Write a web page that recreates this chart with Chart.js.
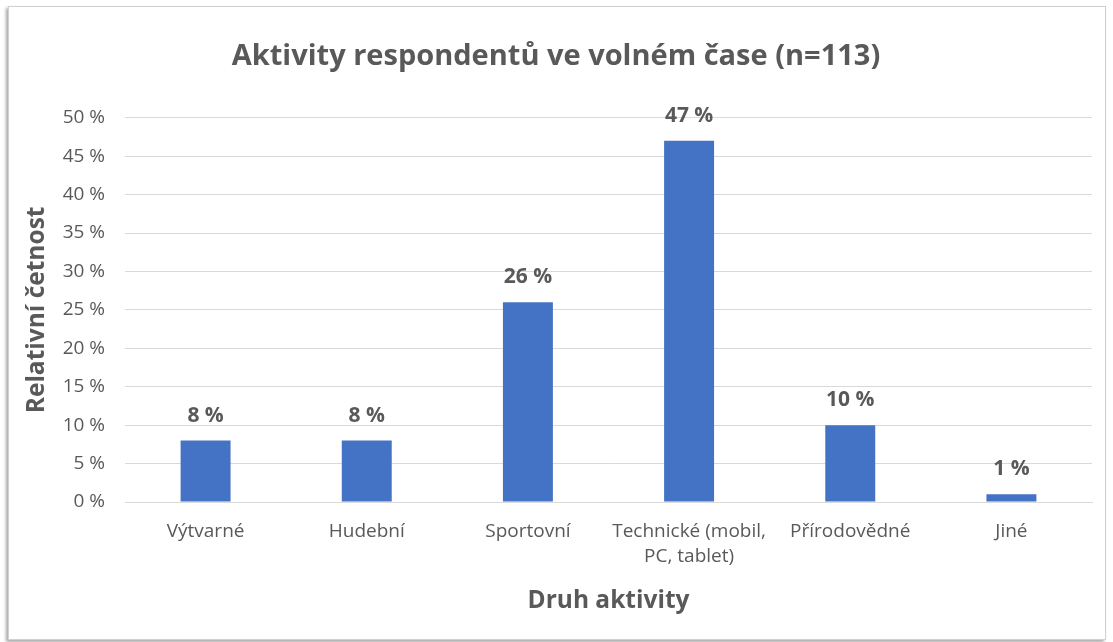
<!DOCTYPE html>
<html>
<head>
<meta charset="utf-8">
<script src="https://cdn.jsdelivr.net/npm/chart.js@4"></script>
<style>
  html, body { margin: 0; padding: 0; background: #fff; }
  #frame {
    position: absolute; left: 8px; top: 6px; width: 1096px; height: 632px;
    border: 1px solid #d0d0d0; box-shadow: -2px 2px 3px rgba(0,0,0,0.35);
    background: #fff;
  }
  #wrap { position: absolute; left: 0; top: 0; width: 1113px; height: 642px; }
</style>
</head>
<body>
<div id="frame"></div>
<div id="wrap"><canvas id="myChart" width="1113" height="642"></canvas></div>
<script>
const categories = [
    'Výtvarné',
    'Hudební',
    'Sportovní',
    ['Technické (mobil,', 'PC, tablet)'],
    'Přírodovědné',
    'Jiné',
];
const values = [8, 8, 26, 47, 10, 1];
const yTicks = [0, 5, 10, 15, 20, 25, 30, 35, 40, 45, 50];

const textColor = '#595959';
const fontFamily = '"Open Sans", sans-serif';

// popisky hodnot nad sloupci
const valueLabels = {
    id: 'valueLabels',
    afterDatasetsDraw(chart) {
        const ctx = chart.ctx;
        const meta = chart.getDatasetMeta(0);
        ctx.save();
        ctx.font = 'bold 21px ' + fontFamily;
        ctx.fillStyle = textColor;
        ctx.textAlign = 'center';
        ctx.textBaseline = 'middle';
        meta.data.forEach((bar, i) => {
            ctx.fillText(values[i] + ' %', bar.x, bar.y - 25);
        });
        ctx.restore();
    }
};

const data = {
    labels: categories,
    datasets: [{
        data: values,
        backgroundColor: '#4472C4',
        borderWidth: 0,
        barPercentage: 0.31,
        categoryPercentage: 1,
    }]
};

const config = {
    type: 'bar',
    data: data,
    plugins: [valueLabels],
    options: {
        responsive: false,
        animation: false,
        layout: { padding: { left: 20, right: 21, top: 20, bottom: 20 } },
        plugins: {
            legend: { display: false },
            tooltip: { enabled: false },
            title: {
                display: true,
                text: 'Aktivity respondentů ve volném čase (n=113)',
                color: textColor,
                font: { family: fontFamily, size: 29, weight: 'bold' },
                padding: { top: 19, bottom: 44 },
            },
        },
        scales: {
            x: {
                grid: { display: false, drawTicks: false },
                border: { color: '#d9d9d9', width: 1 },
                ticks: {
                    color: textColor,
                    font: { family: fontFamily, size: 19, lineHeight: 1.32 },
                    padding: 17,
                    maxRotation: 0,
                    autoSkip: false,
                },
                title: {
                    display: true,
                    text: 'Druh aktivity',
                    color: textColor,
                    font: { family: fontFamily, size: 24.5, weight: 'bold' },
                    padding: { top: 0, bottom: 6 },
                },
                afterFit(scale) { scale.height = 120; },
            },
            y: {
                min: 0,
                max: 50,
                afterBuildTicks(scale) { scale.ticks = yTicks.map(v => ({ value: v })); },
                grid: { color: '#d9d9d9', drawTicks: false },
                border: { display: false },
                ticks: {
                    color: textColor,
                    font: { family: fontFamily, size: 19 },
                    padding: 20,
                    callback: (v) => v + ' %',
                },
                title: {
                    display: true,
                    text: 'Relativní četnost',
                    color: textColor,
                    font: { family: fontFamily, size: 24.5, weight: 'bold' },
                    padding: { top: 2, bottom: 0 },
                },
                afterFit(scale) { scale.width = 105; },
            },
        },
    },
};

new Chart(document.getElementById('myChart'), config);
</script>
</body>
</html>
